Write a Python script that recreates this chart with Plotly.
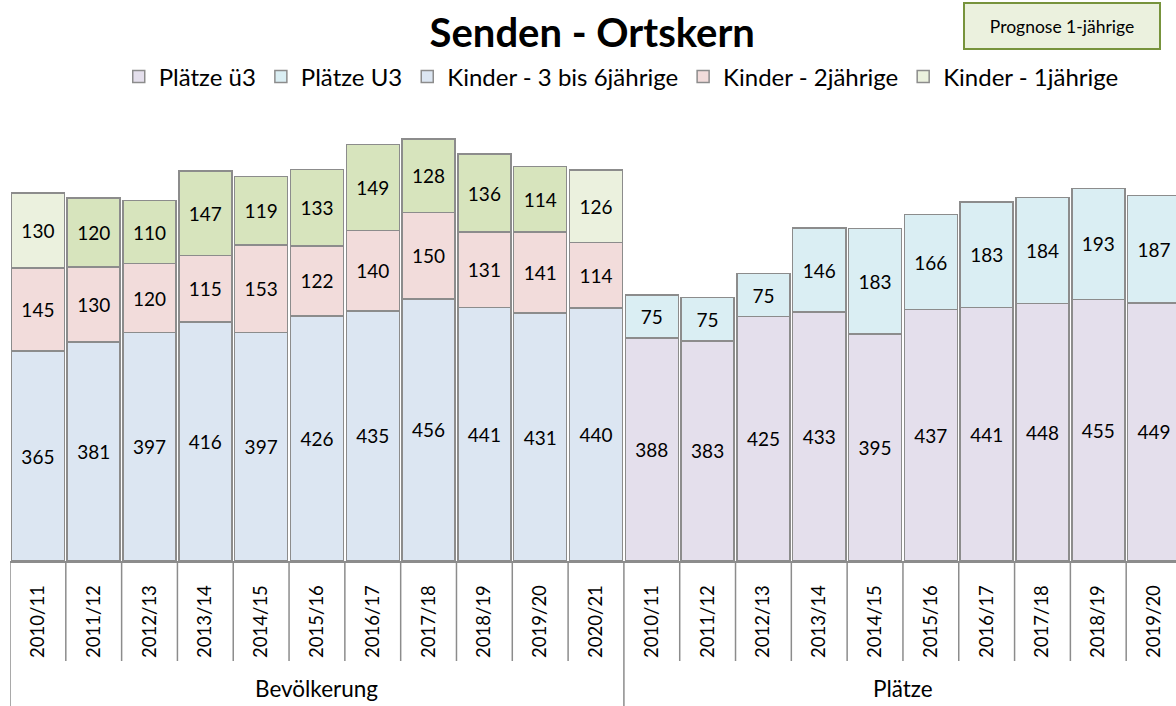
import plotly.graph_objects as go

# ---------------- data ----------------
years_bev = ["2010/11", "2011/12", "2012/13", "2013/14", "2014/15", "2015/16",
             "2016/17", "2017/18", "2018/19", "2019/20", "2020/21"]
years_pl = ["2010/11", "2011/12", "2012/13", "2013/14", "2014/15", "2015/16",
            "2016/17", "2017/18", "2018/19", "2019/20"]
groups = ["Bevölkerung", "Plätze"]

kinder_3_6 = [365, 381, 397, 416, 397, 426, 435, 456, 441, 431, 440]
kinder_2 = [145, 130, 120, 115, 153, 122, 140, 150, 131, 141, 114]
kinder_1 = [130, 120, 110, 147, 119, 133, 149, 128, 136, 114, 126]
prognose_1 = [True, False, False, False, False, False, False, False, False, False, True]

plaetze_ue3 = [388, 383, 425, 433, 395, 437, 441, 448, 455, 449]
plaetze_u3 = [75, 75, 75, 146, 183, 166, 183, 184, 193, 187]

# ---------------- styling ----------------
FONT = "Lato"
C_UE3 = "#E4DFEC"
C_U3 = "#DAEEF3"
C_K36 = "#DCE6F2"
C_K2 = "#F2DCDB"
C_K1 = "#D7E4BD"
C_K1_PROG = "#EBF1DE"
EDGE = "#8C8C8C"

n_bev = len(years_bev)
n_pl = len(years_pl)
n_all = n_bev + n_pl
x_bev = list(range(n_bev))
x_pl = list(range(n_bev, n_all))

# body margin is removed below, so figure origin == page origin;
# the figure is a bit wider than the window (last column is clipped, as in the original)
W, H = 1182, 706
PLOT_LEFT, PLOT_RIGHT, PLOT_TOP, PLOT_BOTTOM = 9.5, 1182, 115, 561  # page px
ML = PLOT_LEFT
MR = W - PLOT_RIGHT
MT = PLOT_TOP
MB = H - PLOT_BOTTOM
plot_h = PLOT_BOTTOM - PLOT_TOP
plot_w = PLOT_RIGHT - PLOT_LEFT


def py(ypx):
    return (PLOT_BOTTOM - ypx) / plot_h


def px(xpx):
    return (xpx - PLOT_LEFT) / plot_w


fig = go.Figure()

common = dict(
    texttemplate="%{y}",
    textposition="inside",
    insidetextanchor="middle",
    textangle=0,
    textfont=dict(family=FONT, size=19, color="#000000"),
)

fig.add_trace(go.Bar(name="Plätze ü3", x=x_pl, y=plaetze_ue3,
                     marker=dict(color=C_UE3, line=dict(color=EDGE, width=1.5)), **common))
fig.add_trace(go.Bar(name="Plätze U3", x=x_pl, y=plaetze_u3,
                     marker=dict(color=C_U3, line=dict(color=EDGE, width=1.5)), **common))
fig.add_trace(go.Bar(name="Kinder - 3 bis 6jährige", x=x_bev, y=kinder_3_6,
                     marker=dict(color=C_K36, line=dict(color=EDGE, width=1.5)), **common))
fig.add_trace(go.Bar(name="Kinder - 2jährige", x=x_bev, y=kinder_2,
                     marker=dict(color=C_K2, line=dict(color=EDGE, width=1.5)), **common))
fig.add_trace(go.Bar(name="Kinder - 1jährige", x=x_bev, y=kinder_1,
                     marker=dict(color=[C_K1_PROG if p else C_K1 for p in prognose_1],
                                 line=dict(color=EDGE, width=1.5)), **common))

shapes = []
for b in range(n_all + 1):
    xb = b - 0.5
    long_line = b in (0, n_bev, n_all)
    shapes.append(dict(type="line", xref="x", yref="paper", x0=xb, x1=xb,
                       y0=0, y1=py(712) if long_line else py(661),
                       line=dict(color=EDGE, width=1.5)))

annotations = [
    dict(text=groups[0], xref="x", yref="paper", x=(x_bev[0] + x_bev[-1]) / 2, y=py(688),
         showarrow=False, font=dict(family=FONT, size=22.5, color="#000000"),
         xanchor="center", yanchor="middle"),
    dict(text=groups[1], xref="x", yref="paper", x=(x_pl[0] + x_pl[-1]) / 2, y=py(688),
         showarrow=False, font=dict(family=FONT, size=22.5, color="#000000"),
         xanchor="center", yanchor="middle"),
    dict(text="Prognose 1-jährige", xref="paper", yref="paper", x=px(1062), y=py(26),
         showarrow=False, font=dict(family=FONT, size=17.5, color="#000000"),
         xanchor="center", yanchor="middle", width=192, height=42,
         bgcolor=C_K1_PROG, bordercolor="#77933C", borderwidth=2),
]

fig.update_layout(
    width=W, height=H,
    margin=dict(l=ML, r=MR, t=MT, b=MB, pad=0),
    paper_bgcolor="white", plot_bgcolor="white",
    barmode="stack", bargap=0.05,
    title=dict(text="<b>Senden - Ortskern</b>", x=px(592), xref="paper", xanchor="center",
               y=1 - 33 / H, yanchor="middle",
               font=dict(family=FONT, size=40, color="#000000")),
    legend=dict(orientation="h", x=px(621), xanchor="center", y=py(77), yanchor="middle",
                font=dict(family=FONT, size=24, color="#000000"), traceorder="normal",
                bgcolor="rgba(0,0,0,0)"),
    xaxis=dict(range=[-0.5, n_all - 0.5], tickmode="array",
               tickvals=x_bev + x_pl, ticktext=years_bev + years_pl,
               tickangle=-90, tickfont=dict(family=FONT, size=18.5, color="#000000"),
               showline=True, linecolor=EDGE, linewidth=1.5, ticks="",
               showgrid=False, zeroline=False, ticklabelstandoff=15),
    yaxis=dict(range=[0, plot_h / 0.575], visible=False, showgrid=False, zeroline=False),
    shapes=shapes,
    annotations=annotations,
    showlegend=True,
)

fig.write_html("out.html", config={"displayModeBar": False},
               post_script="document.body.style.margin='0';document.body.style.overflow='hidden';")
